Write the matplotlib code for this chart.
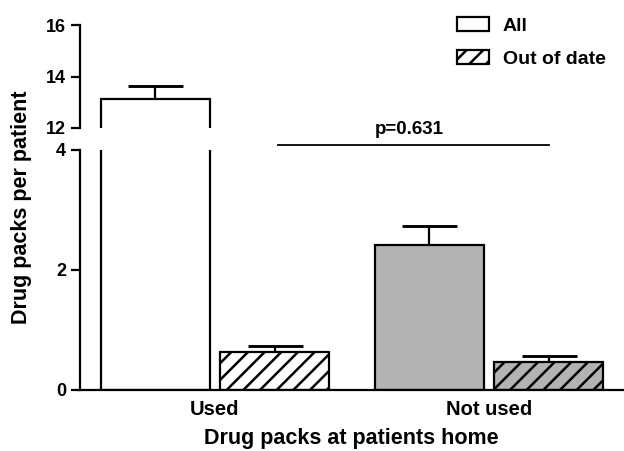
import matplotlib
matplotlib.use('Agg')
import matplotlib.pyplot as plt
from matplotlib.patches import Patch
import numpy as np

plt.rcParams['font.family'] = ['Liberation Sans', 'DejaVu Sans']
plt.rcParams['font.weight'] = 'bold'
plt.rcParams['axes.labelweight'] = 'bold'
plt.rcParams['hatch.linewidth'] = 1.8
plt.rcParams['hatch.color'] = 'black'

# data
groups = ['Used', 'Not used']
all_mean = [13.13, 2.42]
all_err = [0.52, 0.31]
ood_mean = [0.63, 0.47]
ood_err = [0.10, 0.10]
fills = ['white', '#b3b3b3']
p_text = 'p=0.631'

off = 0.218
width = 0.398
lw = 1.6

fig = plt.figure(figsize=(6.24, 4.51), dpi=100)
ax_lo = fig.add_axes([80/624, 61/451, 543/624, 240/451])
ax_hi = fig.add_axes([80/624, 323/451, 543/624, 103/451])
ax_lo.set_zorder(2)
ax_lo.patch.set_visible(False)
ax_hi.patch.set_visible(False)

x = np.arange(len(groups))
for ax in (ax_lo, ax_hi):
    ax.bar(x - off, all_mean, width, color=fills, edgecolor='black', linewidth=lw, zorder=2)
    ax.bar(x + off, ood_mean, width, color=fills, edgecolor='black', linewidth=lw,
           hatch='//', zorder=2)
    ax.errorbar(x - off, all_mean, yerr=[np.zeros(2), all_err], fmt='none', ecolor='black',
                elinewidth=lw, capsize=19.8, capthick=lw * 1.3, zorder=1)
    ax.errorbar(x + off, ood_mean, yerr=[np.zeros(2), ood_err], fmt='none', ecolor='black',
                elinewidth=lw, capsize=19.8, capthick=lw * 1.3, zorder=1)
    ax.set_xlim(-0.493, 1.49)
    for s in ('top', 'right'):
        ax.spines[s].set_visible(False)
    ax.spines['left'].set_linewidth(lw)
    ax.spines['bottom'].set_linewidth(lw)
    ax.tick_params(axis='y', length=6.5, width=lw, labelsize=13)
    for t in ax.get_yticklabels():
        t.set_fontweight('bold')

ax_lo.set_ylim(0, 4)
ax_lo.set_yticks([0, 2, 4])
ax_lo.set_yticklabels(['0', '2', '4'], fontweight='bold', fontsize=13)
ax_lo.set_xticks(x)
ax_lo.set_xticklabels(groups, fontsize=14.5, fontweight='bold')
ax_lo.tick_params(axis='x', length=0, pad=7)

ax_hi.set_ylim(12, 16)
ax_hi.set_yticks([12, 14, 16])
ax_hi.set_yticklabels(['12', '14', '16'], fontweight='bold', fontsize=13)
ax_hi.spines['bottom'].set_visible(False)
ax_hi.set_xticks([])

# significance line
ax_lo.plot([0.23, 1.22], [4.08, 4.08], color='black', lw=1.3, clip_on=False)
ax_lo.text(0.709, 4.2, p_text, ha='center', va='bottom', fontsize=13.5, fontweight='bold')

ax_lo.set_xlabel('Drug packs at patients home', fontsize=15.5, fontweight='bold', labelpad=7)
fig.text(22/624, 1 - 207/451, 'Drug packs per patient', rotation=90,
         ha='center', va='center', fontsize=15.5, fontweight='bold')

handles = [Patch(facecolor='white', edgecolor='black', linewidth=lw),
           Patch(facecolor='white', edgecolor='black', linewidth=lw, hatch='//')]
ax_hi.legend(handles, ['All', 'Out of date'], loc='upper left',
             bbox_to_anchor=(457/624, 1 - 17/451), bbox_transform=fig.transFigure,
             frameon=False, prop={'size': 14, 'weight': 'bold'}, handlelength=1.65,
             handleheight=0.7, handletextpad=0.7, labelspacing=0.8, borderpad=0,
             borderaxespad=0)

fig.savefig('out.png', dpi=100)
